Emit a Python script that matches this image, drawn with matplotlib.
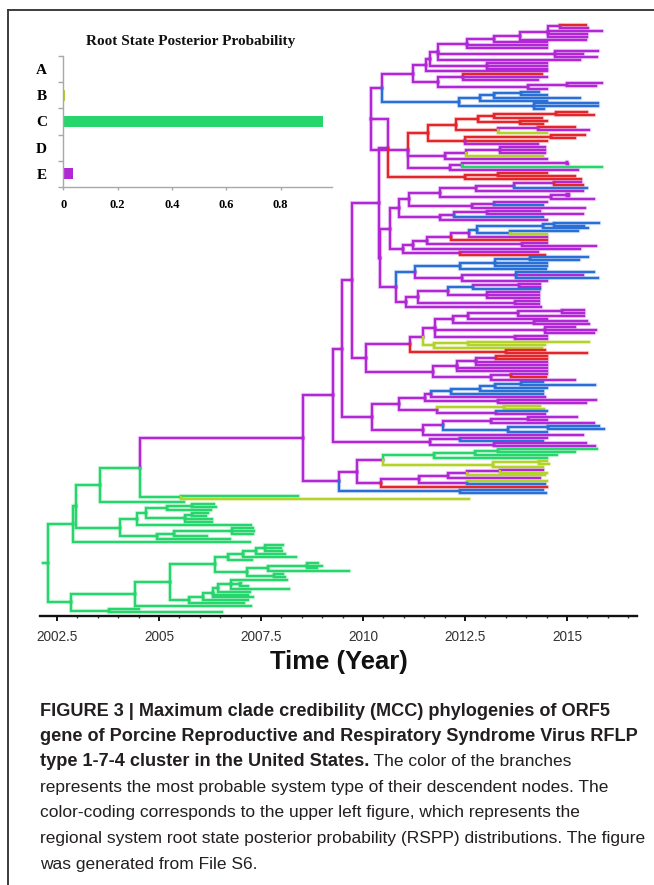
import numpy as np
import matplotlib
matplotlib.use("Agg")
import matplotlib.pyplot as plt
from matplotlib.collections import LineCollection
from matplotlib.lines import Line2D

# ---------------- data ----------------
STATES = ["A", "B", "C", "D", "E"]
RSPP = [0.003, 0.008, 0.955, 0.002, 0.037]
STATE_COLORS = {"A": "#e3262b", "B": "#b3d22a", "C": "#26d56b",
                "D": "#2a6fd6", "E": "#b127d6"}
INSET_TICKS = [0, 0.2, 0.4, 0.6, 0.8]
INSET_TICK_LABELS = ["0", "0.2", "0.4", "0.6", "0.8"]
X_TICKS = [2002.5, 2005, 2007.5, 2010, 2012.5, 2015]
X_TICK_LABELS = ["2002.5", "2005", "2007.5", "2010", "2012.5", "2015"]
X_MINOR = [2002.5 + 0.5 * i for i in range(29)]
ROOT_STEM_START = 2002.16
YEAR_BASE = 2000

# Tree (Newick). Node label = most probable state letter + node date (years after 2000)
E18 = "((A15.47,E15.52)E14.83,E15.85,E15.5,E15.48)E14.54"
E17 = f"({E18},E15.46)E13.86"
E16 = f"({E17},E14.5)E13.2"
E15 = f"({E16},E14.5,E14.52)E12.54"
E20 = "(E15.75,E15.4,E15.73)E14.7"
E14 = f"({E15},{E20},E15.33)E11.85"
E24 = "(E14.5,E14.5,E14.52)E13.03"
E12A = f"({E14},{E24})E11.63"
E12 = f"({E12A},E14.5)E11.55"
E21 = "(A14.38,E14.5,E14.3)E12.45"
E22 = "((E15.85,E15.7)E14.99,E14.5)E14.05"
E13 = f"({E21},{E22})E11.83"
E10 = f"({E12},{E13})E11.23"
E11 = "((((D14.32,D14.52)D13.88,D15.33)D13.2,D14.5)D12.87,(D15.77,D15.77,D14.44)D14.18)D12.36"
E9 = f"({E10},{E11})E10.47"

R2 = "(((A15.48,A15.65)A14.72,A14.38)A13.22,(A14.5,A14.4)A13.85)A12.81"
R6 = "((A15.2,E15.55)E14.3,B14.5)A13.32"
R1 = f"({R2},{R6})A12.27"
R8 = "((A15.45,A15.2)A14.6,A14.5,E14.3)A12.5"
R = f"({R1},{R8})A11.59"
X445 = "(((E14.46,E14.47,E14.45)E13.36,B14.4)E12.52,E14.5)E12.0"
N450 = "(((E15.0,E15.02)E14.99,C15.85)E12.42,E15.28)E12.13"
Z = f"({R},{X445},{N450})E11.1"
E8 = f"({E9},{Z})E10.2"
YRED = "((A14.5,A15.2)A13.3,A15.35)A12.5"
Y = f"({E8},{YRED})E10.61"

F6 = "(((E15.34,A15.4)E14.67,D15.5)E13.69,E15.4)E12.77"
F9 = "((E15.05,E15.05)E14.99,E15.65)E14.62"
F4 = f"({F6},{F9})E11.89"
F5 = "((E14.5,D14.4)E13.2,E15.45)E12.68"
F3 = f"({F4},{F5})E11.13"
F8 = "(((E14.33,E15.4)E13.03,D14.4)E12.23,E14.5)E11.89"
F2 = f"({F3},{F8})E10.88"
F20 = "(((D15.79,D15.42)D14.68,D15.52)D14.4,(D15.28,B14.5)D13.6)D12.79"
F18 = f"(({F20},E14.5)E12.6,A14.5)E12.15"
F17 = f"({F18},(E14.5,E15.7)E13.9)E11.56"
F16 = f"({F17},E15.33)E11.23"
F7 = f"({F16},(E14.3,A14.46)E12.38)E10.97"
F1 = f"({F2},{F7})E10.66"
G2 = "((((D15.52,D15.3)D14.1,D14.5,D14.5)D13.23,D14.48)D12.38,((D15.67,E15.4,D15.75)E13.75,E14.5)E12.42)D11.28"
G3 = "(((((E14.35,E14.35)E13.83,D14.34)D12.7,(E14.32,E14.32,E14.32)E13.05)E12.09,(E14.31,E14.31)E13.73)E11.36,E14.36)E11.05"
G1 = f"({G2},{G3})E10.82"
E6B = f"({F1},{G1})E10.42"
E6 = f"({Y},{E6B})E10.38"

H5 = "((((E15.42,E15.42)E14.88,E15.42)E13.81,E14.5)E12.58,(E15.48,E15.55)E14.2)E12.21"
H4 = f"({H5},(E15.2,E15.7,E15.65)E14.46,(E14.5,E14.5)E13.73)E11.77"
H12 = "((B15.53,B14.45)B12.57,B14.38)B11.75"
H1 = f"(({H4},{H12})E11.48,(A14.46,A15.5)A13.5)E11.15"
H2 = "((((A14.5,A14.5)E13.26,E14.52,E14.52)E12.78,E14.5,E14.5)E12.3,((E14.5,A14.48)E13.62,E15.2)E13.13)E11.71"
E7 = f"({H1},{H2})E10.07"
E4 = f"({E6},{E7})E9.72"

K3 = "((((((D14.4,D15.68)D13.87,D14.5)D13.23,D14.42)D12.87,D14.4)D12.15,E14.46)E11.67,(E15.7,E15.46)E13.3)E11.53"
K10 = "((B14.35,B14.44)B13.45,(D14.5,E14.46)E13.27)E11.81"
K1 = f"({K3},{K10})E10.88"
K2 = "((((E15.24,E14.5)E14.04,E15.65)E13.13,((D15.79,D15.9)D14.54,D14.5)D13.56)E11.97,E15.4)E11.48"
E5 = f"({K1},{K2})E10.23"
E3 = f"({E4},{E5})E9.48"
E1L = "((E14.5,D14.42)E12.38,(E15.46,E15.69)E13.2)E11.64"
E1 = f"({E3},{E1L})E9.26"

E2B = "((((C15.74,C15.2)C13.3,C14.75)C12.75,C14.5)C11.75,((B14.5,B14.55)B14.31,B14.42)B13.18)E10.5"
E2D = "((((E14.4,B14.5)E13.36,B14.46)E12.54,E14.35)E12.09,(B14.5,D14.46)E12.54)E11.38"
E2 = f"(({E2B},({E2D},A14.5)E10.43)E9.85,(D14.4,D14.49)D12.38)E9.42"
E0 = f"({E1},{E2})E8.53"

P = f"({E0},(C8.41,B12.6)C5.53)C4.53"
U1A = f"({P},C5.61)C3.55"
GA = "((((C6.34,C6.39)C5.8,C6.27)C5.19,((C6.2,C6.15)C5.8,C6.3,C6.31)C5.64)C4.67,C7.25)C4.45"
GE = "(((C7.3,C7.32,C7.31)C6.8,C6.17)C5.37,C6.74)C4.96"
U = f"(({U1A},({GA},{GE})C4.04)C2.96,C7.23)C2.88"
M1 = "((((C8.05,C7.99,C8.02)C7.61,C8.1)C7.38,C8.37)C7.07,C7.27)C6.7"
M2 = "(((C8.9,C8.99,C8.88)C8.62,C9.66)C7.66,(C8.05,C8.08)C7.82)C7.15"
NCL = "(((((C8.13,(C7.0,C7.19)C6.98,C8.19)C6.76,C7.23)C6.45,C7.19,C7.31)C6.32,C7.17)C6.09,C7.08)C5.74"
L = f"(((({M1},{M2})C6.38,{NCL})C5.27,C7.25)C4.42,(C4.5,C6.54)C3.77)C2.835"
TREE = f"({U},{L})C2.29"

CAPTION_BOLD = ["FIGURE 3 | Maximum clade credibility (MCC) phylogenies of ORF5",
                "gene of Porcine Reproductive and Respiratory Syndrome Virus RFLP",
                "type 1-7-4 cluster in the United States."]
CAPTION_REG = [" The color of the branches",
               "represents the most probable system type of their descendent nodes. The",
               "color-coding corresponds to the upper left figure, which represents the",
               "regional system root state posterior probability (RSPP) distributions. The figure",
               "was generated from File S6."]


# ---------------- helpers ----------------
def parse_newick(s):
    pos = 0

    def node():
        nonlocal pos
        kids = []
        if s[pos] == "(":
            pos += 1
            kids.append(node())
            while s[pos] == ",":
                pos += 1
                kids.append(node())
            pos += 1  # ')'
        st = pos
        while pos < len(s) and s[pos] not in ",()":
            pos += 1
        lab = s[st:pos]
        return {"c": lab[0], "t": YEAR_BASE + float(lab[1:]), "kids": kids}

    return node()


root = parse_newick(TREE)
tips = []


def layout(n):
    if not n["kids"]:
        n["y"] = len(tips)
        tips.append(n)
    else:
        for k in n["kids"]:
            layout(k)
        n["y"] = (n["kids"][0]["y"] + n["kids"][-1]["y"]) / 2.0


layout(root)
NT = len(tips)

segs, cols = [], []


def collect(n):
    for k in n["kids"]:
        segs.append([(n["t"], n["y"]), (n["t"], k["y"]), (k["t"], k["y"])])
        cols.append(STATE_COLORS[k["c"]])
        collect(k)


segs.append([(ROOT_STEM_START, root["y"]), (root["t"], root["y"])])
cols.append(STATE_COLORS[root["c"]])
collect(root)

# ---------------- figure ----------------
W, H = 654, 885
fig = plt.figure(figsize=(W / 100, H / 100), dpi=100)
renderer = fig.canvas.get_renderer()


def fx(px):
    return px / W


def fy(py):
    return 1 - py / H


def fit_size(s, target, **kw):
    t = fig.text(0, 0, s, fontsize=10, **kw)
    w = t.get_window_extent(renderer=renderer).width
    t.remove()
    return 10.0 * target / w


# main tree axes
x_px0, x_px1 = 40, 637
y_top, y_bot = 12, 616
tip0_px, tipN_px = 25, 612
ax = fig.add_axes([fx(x_px0), fy(y_bot), (x_px1 - x_px0) / W, (y_bot - y_top) / H])
px_per_year = (567 - 57) / 12.5
ax.set_xlim(2002.5 + (x_px0 - 57) / px_per_year, 2002.5 + (x_px1 - 57) / px_per_year)
sp = (tipN_px - tip0_px) / (NT - 1)
ax.set_ylim((y_bot - tip0_px) / sp, (y_top - tip0_px) / sp)

halo = LineCollection(segs, colors=cols, linewidths=3.2, alpha=0.15,
                      capstyle="projecting", joinstyle="miter")
main = LineCollection(segs, colors=cols, linewidths=1.75,
                      capstyle="projecting", joinstyle="miter")
ax.add_collection(halo)
ax.add_collection(main)

for s in ["left", "right", "top"]:
    ax.spines[s].set_visible(False)
ax.spines["bottom"].set_linewidth(1.7)
ax.spines["bottom"].set_color("#111111")
ax.set_yticks([])
ax.set_xticks(X_TICKS)
ax.set_xticklabels(X_TICK_LABELS, fontsize=9.8, color="#333333", family="Liberation Sans")
ax.set_xticks(X_MINOR, minor=True)
ax.tick_params(axis="x", which="major", length=3.4, width=1.4, color="#111111", pad=6.5)
ax.tick_params(axis="x", which="minor", length=1.7, width=1.0, color="#333333")
ax.patch.set_alpha(0)

fs = fit_size("Time (Year)", 138, weight="bold", family="Liberation Sans")
fig.text(fx(339), fy(662), "Time (Year)", ha="center", va="center", fontsize=fs,
         weight="bold", family="Liberation Sans", color="#111111")

# inset
inset_x0, inset_x1 = 62.5, 332
ins = fig.add_axes([fx(inset_x0), fy(187), (inset_x1 - inset_x0) / W, (187 - 56) / H])
upx = 271.7
ins.set_xlim((inset_x0 - 63.3) / upx, (inset_x1 - 63.3) / upx)
ins.set_ylim(4.5, -0.5)
ins.barh(range(len(STATES)), RSPP, height=0.42,
         color=[STATE_COLORS[s] for s in STATES])
for s in ["right", "top"]:
    ins.spines[s].set_visible(False)
for s in ["left", "bottom"]:
    ins.spines[s].set_color("#a8a8a8")
    ins.spines[s].set_linewidth(1.0)
ins.set_yticks(range(len(STATES)))
ins.set_yticklabels(STATES, family="Liberation Serif", weight="bold", fontsize=11)
ins.set_yticks([i - 0.5 for i in range(len(STATES) + 1)], minor=True)
ins.tick_params(axis="y", which="major", length=0, pad=11)
ins.tick_params(axis="y", which="minor", length=3.5, width=1.0, color="#a8a8a8")
ins.set_xticks(INSET_TICKS)
ins.set_xticklabels(INSET_TICK_LABELS, family="Liberation Serif", weight="bold", fontsize=9)
ins.tick_params(axis="x", which="major", length=2.5, width=1.0, color="#a8a8a8", pad=6)
ins.patch.set_alpha(0)

title = "Root State Posterior Probability"
fs = fit_size(title, 209, weight="bold", family="Liberation Serif")
fig.text(fx(190.5), fy(42), title, ha="center", va="center", fontsize=fs,
         weight="bold", family="Liberation Serif", color="#111111")

# frame lines
fig.add_artist(Line2D([fx(8), fx(654)], [fy(10), fy(10)], color="#3c3c3c", lw=1.4))
fig.add_artist(Line2D([fx(8), fx(8)], [fy(10), fy(885)], color="#3c3c3c", lw=1.4))

# caption
cap_color = "#231f20"
fsb = fit_size(CAPTION_BOLD[0], 571, weight="bold", family="Liberation Sans")
fsr = fit_size(CAPTION_REG[3], 605, family="Liberation Sans")
line_y = [711, 736.5, 762, 787.5, 813, 839, 865]
cx = 40
for i in range(2):
    fig.text(fx(cx), fy(line_y[i]), CAPTION_BOLD[i], ha="left", va="center",
             fontsize=fsb, weight="bold", family="Liberation Sans", color=cap_color)
tb = fig.text(fx(cx), fy(line_y[2]), CAPTION_BOLD[2], ha="left", va="center",
              fontsize=fsb, weight="bold", family="Liberation Sans", color=cap_color)
wb = tb.get_window_extent(renderer=renderer).width
fig.text(fx(cx + wb), fy(line_y[2]), CAPTION_REG[0], ha="left", va="center",
         fontsize=fsr, family="Liberation Sans", color=cap_color)
for j in range(1, 5):
    fig.text(fx(cx), fy(line_y[j + 2]), CAPTION_REG[j], ha="left", va="center",
             fontsize=fsr, family="Liberation Sans", color=cap_color)

fig.savefig("out.png", dpi=100)
